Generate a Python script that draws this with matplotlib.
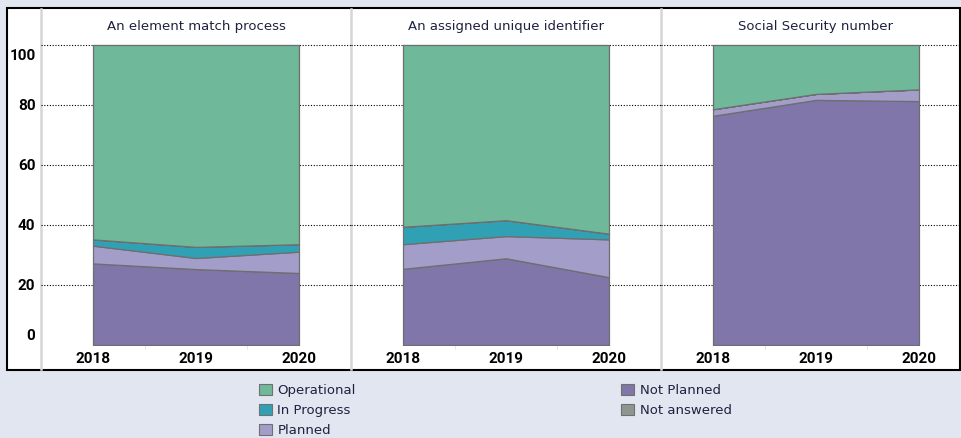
import matplotlib.pyplot as plt
from matplotlib.lines import Line2D
from matplotlib.patches import Rectangle, Patch
from matplotlib.transforms import ScaledTranslation

# Data (percent of respondents)
years = ['2018', '2019', '2020']
panels = ['An element match process', 'An assigned unique identifier', 'Social Security number']

not_planned = [[27.2, 25.3, 24.0], [25.4, 28.9, 22.6], [76.4, 81.7, 81.3]]
planned = [[5.9, 3.7, 7.1], [8.2, 7.4, 12.6], [2.2, 2.0, 3.9]]
in_progress = [[2.1, 3.7, 2.5], [5.8, 5.3, 1.9], [0.0, 0.0, 0.0]]
not_answered = [[0.0, 0.0, 0.0], [0.0, 0.0, 0.0], [0.0, 0.0, 0.0]]
operational = [[64.8, 67.3, 66.4], [60.6, 58.4, 62.9], [21.4, 16.3, 14.8]]

layer_names = ['Not Planned', 'Planned', 'In Progress', 'Not answered', 'Operational']
colors = {
    'Operational': '#6fb89a',
    'In Progress': '#30a1b5',
    'Planned': '#a39dc9',
    'Not Planned': '#8076a9',
    'Not answered': '#8f9692',
}

W, H = 961, 438
fig = plt.figure(figsize=(W / 100, H / 100), dpi=100)
fig.patch.set_facecolor('#e1e6f0')

def fx(px):
    return px / W

def fy(py):
    return 1 - py / H

# white chart box with black frame
fig.patches.append(Rectangle((fx(7), fy(370)), fx(960) - fx(7), fy(8) - fy(370),
                             transform=fig.transFigure, facecolor='white',
                             edgecolor='black', linewidth=1.5, zorder=-2))

# panel dividers
panel_left = [41, 351, 661]
for xp in panel_left:
    fig.add_artist(Line2D([fx(xp), fx(xp)], [fy(9), fy(369)], color='#d6d6d6',
                          linewidth=1.8, transform=fig.transFigure, zorder=-1))

title_color = '#1e2240'
tick_font = dict(family='Roboto', size=11, weight='bold')
x_pos = [0, 1, 2]
panel_w = 310

for i, name in enumerate(panels):
    ax = fig.add_axes([fx(panel_left[i]), fy(345), fx(panel_w), fy(8) - fy(345)])
    ax.set_zorder(1)
    ax.set_facecolor('none')
    series = [not_planned[i], planned[i], in_progress[i], not_answered[i], operational[i]]
    ax.stackplot(x_pos, *series, colors=[colors[n] for n in layer_names],
                 edgecolor='#6e6e6e', linewidth=0.9, zorder=2)
    ax.set_xlim(-0.505, 2.505)
    ax.set_ylim(0, 112.33)
    ax.set_yticks([0, 20, 40, 60, 80, 100])
    ax.grid(axis='y', linestyle=(0, (1, 1.5)), color='black', linewidth=0.8)
    ax.set_axisbelow(True)
    for gl in ax.get_ygridlines()[:1]:
        gl.set_visible(False)
    ax.set_xticks(x_pos)
    ax.set_xticklabels(years, fontdict=tick_font)
    ax.set_xticks([0.5, 1.5], minor=True)
    ax.tick_params(axis='x', length=0, pad=5)
    ax.tick_params(axis='x', which='minor', length=3, direction='out', color='#e0e0e0')
    if i == 0:
        ax.set_yticklabels(['0', '20', '40', '60', '80', '100'], fontdict=tick_font)
        ax.tick_params(axis='y', length=0, pad=4)
        labs = ax.get_yticklabels()
        labs[0].set_transform(labs[0].get_transform() + ScaledTranslation(0, 10 / 100, fig.dpi_scale_trans))
        labs[-1].set_transform(labs[-1].get_transform() + ScaledTranslation(0, -10 / 100, fig.dpi_scale_trans))
    else:
        ax.tick_params(axis='y', length=0, labelleft=False)
    for s in ax.spines.values():
        s.set_visible(False)
    ax.text(1, 106, name, ha='center', va='center', fontsize=9.5, color=title_color)

legend_order = ['Operational', 'In Progress', 'Planned', 'Not Planned', 'Not answered']
handles = [Patch(facecolor=colors[n], edgecolor='#707070', linewidth=0.8) for n in legend_order]
fig.legend(handles, legend_order, loc='upper left', bbox_to_anchor=(fx(259), fy(384)),
           ncol=2, frameon=False, fontsize=9.5, borderpad=0, borderaxespad=0,
           handlelength=0.95, handleheight=0.95, handletextpad=0.45, labelspacing=0.5,
           columnspacing=20.1, labelcolor=title_color)

fig.savefig('out.png', dpi=100, facecolor=fig.get_facecolor())
